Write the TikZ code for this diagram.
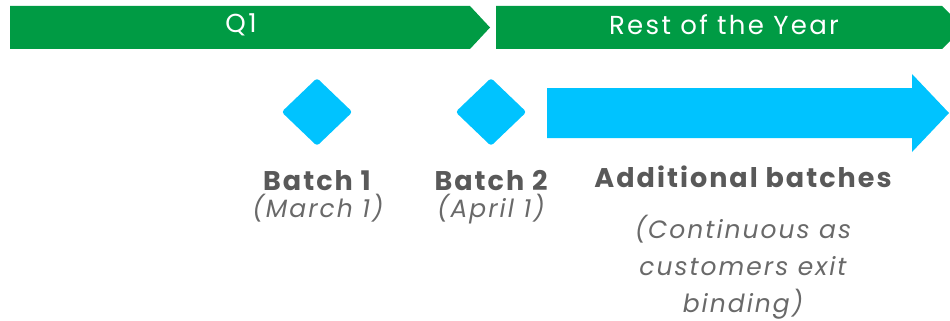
\documentclass[tikz,border=0pt]{standalone}
\usepackage{fontspec}
\setmainfont{Poppins}
\usetikzlibrary{shapes.geometric}

\definecolor{bargreen}{RGB}{0,155,68}
\definecolor{batchblue}{RGB}{0,195,255}
\definecolor{labelgray}{RGB}{89,89,89}
\definecolor{notegray}{RGB}{105,105,105}

\begin{document}
\begin{tikzpicture}[x=1pt,y=-1pt,
  bartext/.style={text=white,font=\fontsize{26}{30}\selectfont\addfontfeatures{LetterSpace=9},anchor=base,inner sep=0pt},
  milestone/.style={diamond,fill=batchblue,rounded corners=3pt,minimum width=71pt,minimum height=68pt,inner sep=0pt},
  batchtitle/.style={text=labelgray,font=\fontsize{27}{31}\selectfont\bfseries\addfontfeatures{LetterSpace=7.5},anchor=base,inner sep=0pt},
  batchnote/.style={text=notegray,font=\fontsize{25}{37}\selectfont\itshape\addfontfeatures{LetterSpace=8},anchor=base,inner sep=0pt,align=center}]
\useasboundingbox (0,0) rectangle (950,321);

% timeline bars
\fill[bargreen] (10,6) -- (470,6) -- (490,27.5) -- (470,49) -- (10,49) -- cycle;
\fill[bargreen] (496,6) -- (942,6) -- (964,27.5) -- (942,49) -- (496,49) -- cycle;
\node[bartext] (q1) at (241,33) {Q1};
\node[bartext] (rest) at (724,35) {Rest of the Year};

% batches
\node[milestone] (batch1) at (317,112) {};
\node[milestone] (batch2) at (491,112) {};
\fill[batchblue] (547,88) -- (912,88) -- (912,74) -- (949,113) -- (912,152) -- (912,138) -- (547,138) -- cycle;

\node[batchtitle] (batch1title) at (317,190) {Batch 1};
\node[batchnote] (batch1date) at (318,217) {(March 1)};
\node[batchtitle] (batch2title) at (491,190) {Batch 2};
\node[batchnote] (batch2date) at (491,217) {(April 1)};
\node[batchtitle] (moretitle) at (743,187) {Additional batches};
% multi-line node: base sits on its last line
\node[batchnote] (morenote) at (743,312) {(Continuous as\\customers exit\\binding)};
\end{tikzpicture}
\end{document}
